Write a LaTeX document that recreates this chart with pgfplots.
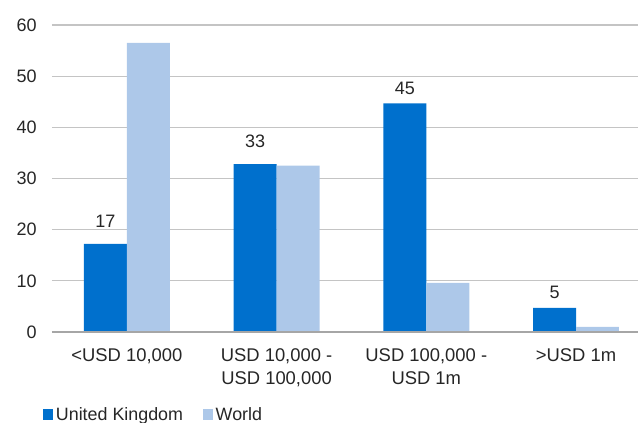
\documentclass[border=0pt]{standalone}
\usepackage{fontspec}
\setmainfont{Liberation Sans}
\usepackage{pgfplots}
\usepackage{pgfplotstable}
\pgfplotsset{compat=1.18}
\definecolor{ukblue}{HTML}{0070CD}
\definecolor{wblue}{HTML}{ADC8E9}
\definecolor{gridgrey}{HTML}{C4C4C4}
\definecolor{axgrey}{HTML}{A6A6A6}
\definecolor{txt}{HTML}{262626}
\pgfplotstableread{
x y lab sh
0 17.2 17 8.5
1 32.8 33 8.5
2 44.7 45 3.2
3 4.7 5 3.2
}\uktable
\pgfplotstableread{
x y
0 56.5
1 32.5
2 9.6
3 1.0
}\wtable
\begin{document}
\begin{tikzpicture}
\path[use as bounding box] (-39pt,-68.25pt) rectangle (439.5pt,249pt);
\begin{axis}[
  at={(0,0)}, anchor=south west,
  scale only axis, width=439.5pt, height=230.25pt,
  xmin=-0.5, xmax=3.414,
  ymin=0, ymax=60,
  ytick={0,10,...,60},
  xtick={0,1,2,3},
  xticklabels={{<USD 10,000},{USD 10,000 -\\USD 100,000},{USD 100,000 -\\USD 1m},{>USD 1m}},
  xticklabel style={align=center, font=\fontsize{13.8}{17.25}\selectfont, text=txt, yshift=-9pt},
  yticklabel style={font=\fontsize{13.5}{15}\selectfont, text=txt, xshift=-8pt},
  /pgf/number format/assume math mode=true,
  major tick length=0pt,
  axis line style={draw=none},
  axis x line*=bottom, axis y line*=left,
  ymajorgrids, grid style={gridgrey, line width=0.9pt},
  ybar=0pt, bar width=0.287,
  legend style={at={(-0.0222,-0.270)}, anchor=west, draw=none, fill=none,
    font=\fontsize{13.4}{15}\selectfont, text=txt, legend columns=2,
    /tikz/every even column/.append style={column sep=13pt}},
  legend image code/.code={\fill[#1] (0pt,-4.1pt) rectangle (7.5pt,4.1pt);},
  clip=false,
]
\addplot[fill=ukblue, draw=none, nodes near coords, point meta=explicit symbolic,
  visualization depends on={\thisrow{sh} \as \myshift},
  every node near coord/.append style={font=\fontsize{13.5}{15}\selectfont, text=txt, yshift=\myshift pt}]
  table[x=x, y=y, meta=lab] {\uktable};
\addplot[fill=wblue, draw=none] table[x=x, y=y] {\wtable};
\legend{United Kingdom, World}
\draw[axgrey, line width=1.6pt] (rel axis cs:0,0) -- (rel axis cs:1,0);
\end{axis}
\end{tikzpicture}
\end{document}
